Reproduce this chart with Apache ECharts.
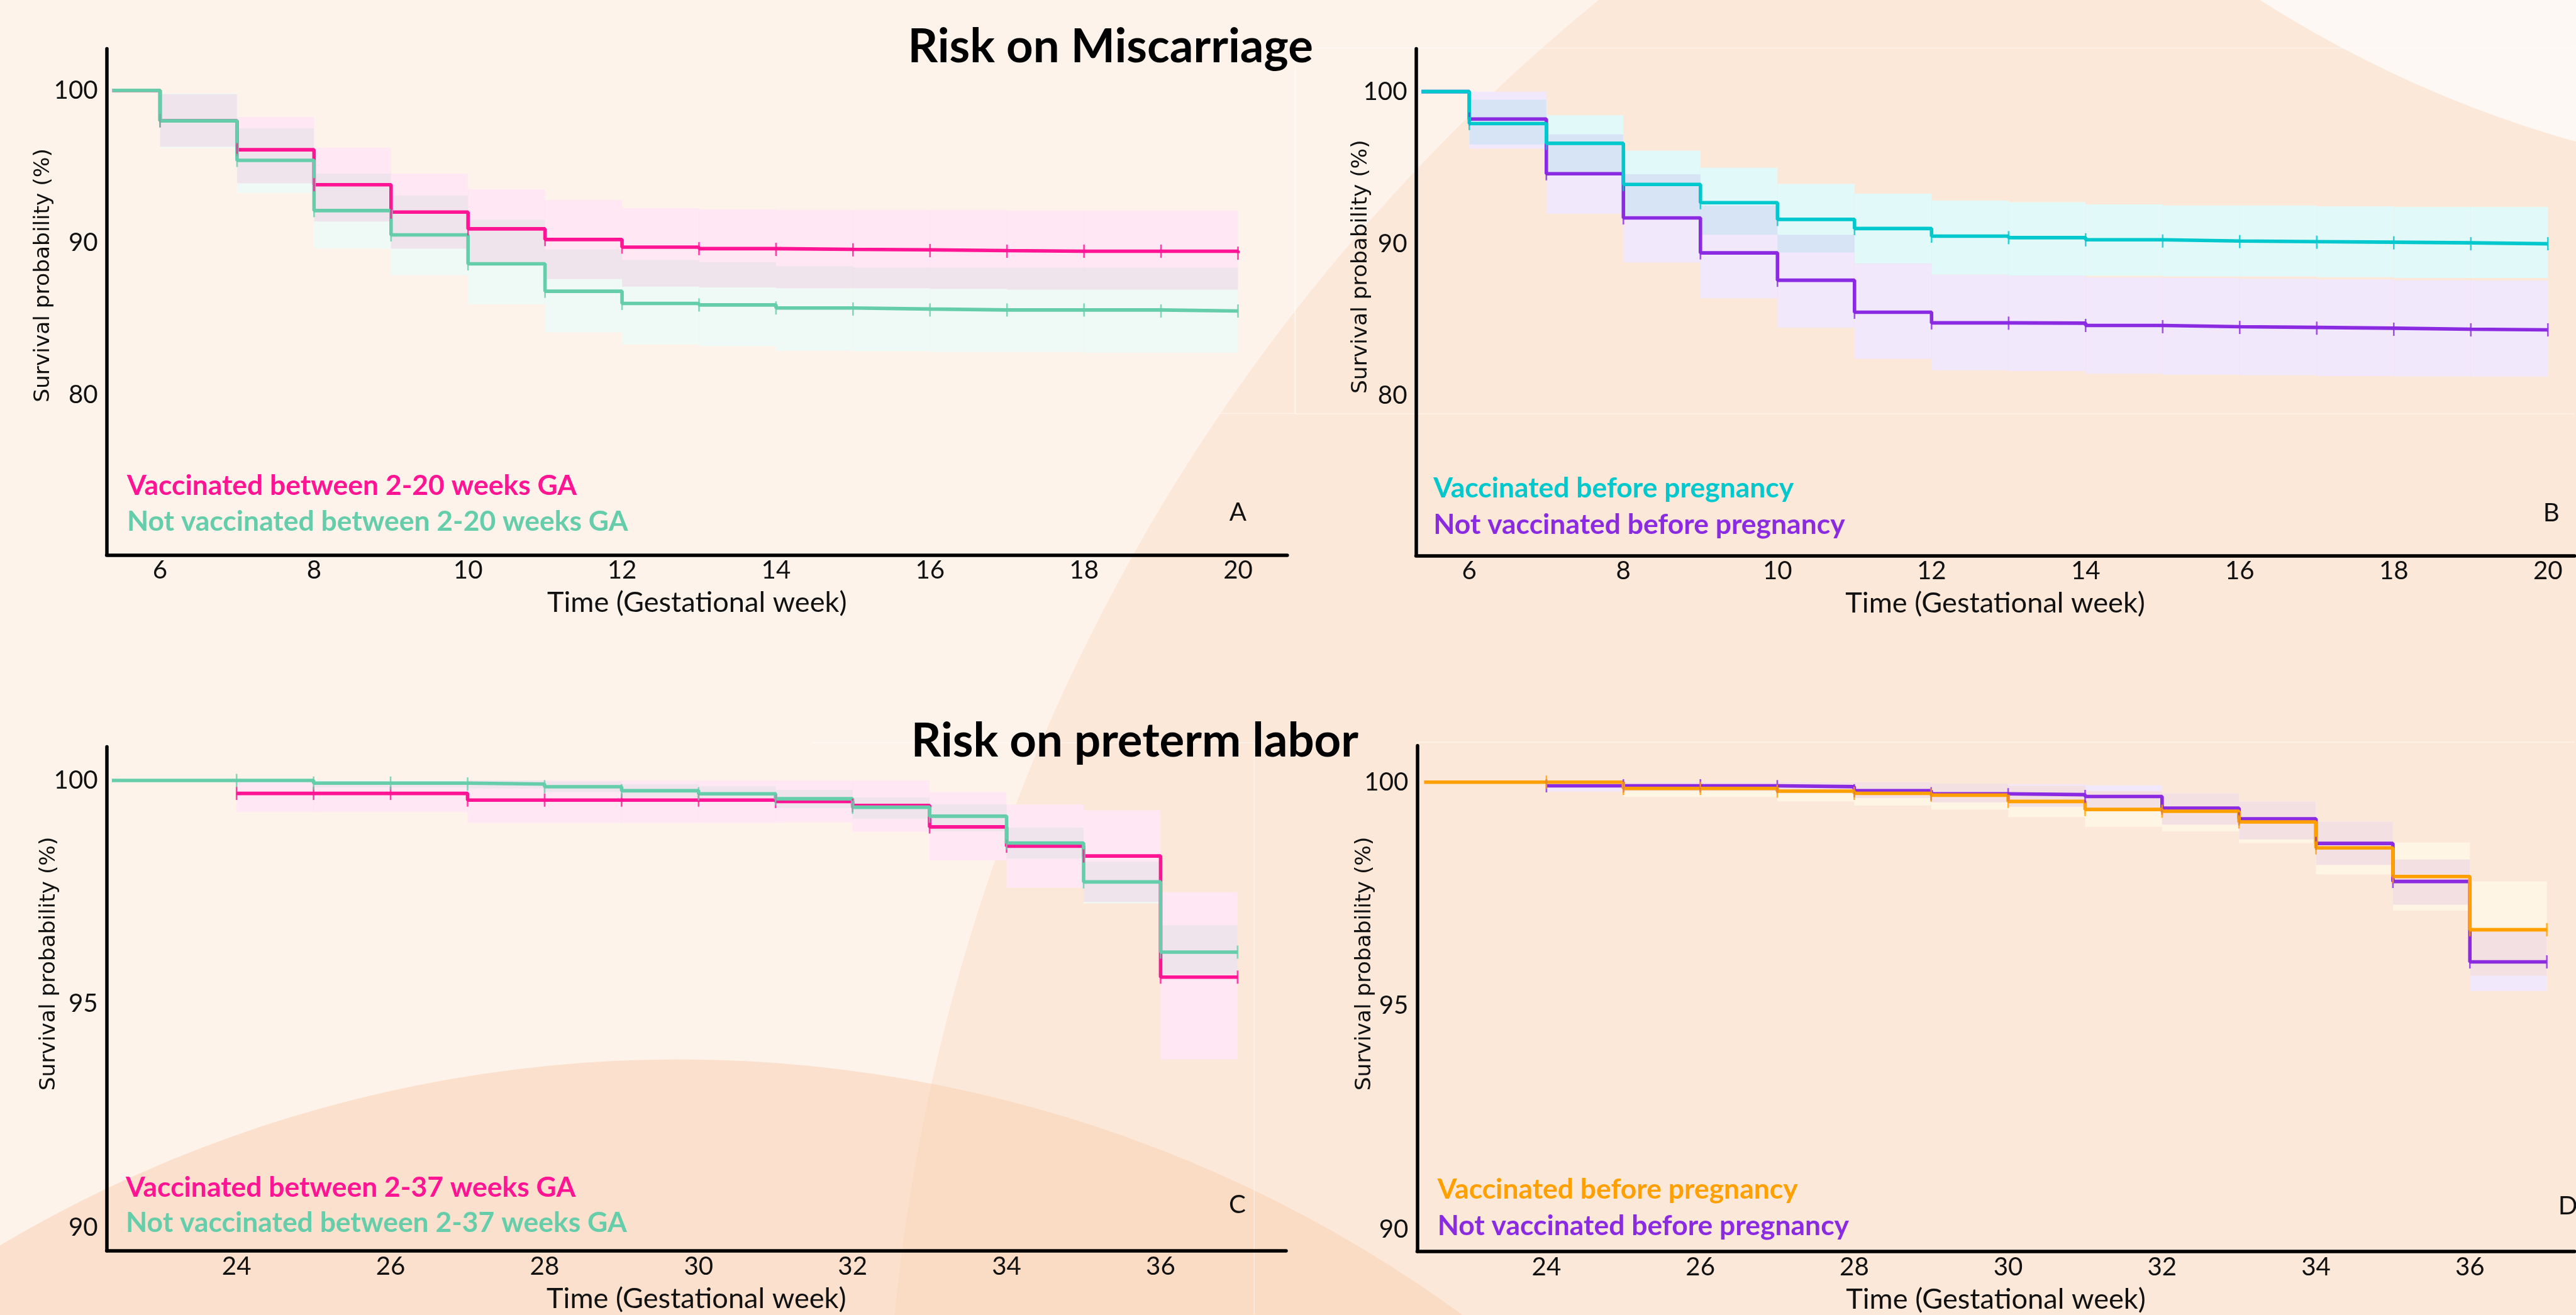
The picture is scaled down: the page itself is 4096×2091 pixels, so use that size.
<!DOCTYPE html>
<html>
<head>
<meta charset="utf-8">
<script src="https://cdn.jsdelivr.net/npm/echarts@6/dist/echarts.min.js"></script>
<style>
html,body{margin:0;padding:0;background:#fef3eb;}
#c{width:4096px;height:2091px;}
</style>
</head>
<body>
<div id="c"></div>
<script>
// ---------------- DATA ----------------
// Panel A: Risk on miscarriage, vaccinated between 2-20 weeks GA
const A_t      = [5.38, 6, 7, 8, 9, 10, 11, 12, 13, 14, 15, 16, 17, 18, 19, 20];
const A_vac    = [100, 98.0, 96.1, 93.8, 92.0, 90.9, 90.2, 89.7, 89.6, 89.55, 89.52, 89.47, 89.43, 89.43, 89.43, 89.3];
const A_vacHi  = [100, 99.75, 98.25, 96.24, 94.53, 93.5, 92.8, 92.25, 92.2, 92.15, 92.15, 92.15, 92.1, 92.1, 92.1];
const A_vacLo  = [100, 96.3, 93.9, 91.38, 89.6, 88.6, 87.6, 87.1, 87.05, 87.0, 87.0, 86.95, 86.9, 86.9, 86.9];
const A_not    = [100, 98.0, 95.4, 92.1, 90.5, 88.6, 86.8, 86.0, 85.9, 85.7, 85.63, 85.57, 85.57, 85.57, 85.5, 85.5];
const A_notHi  = [100, 99.8, 97.5, 94.53, 93.1, 91.5, 89.55, 88.85, 88.7, 88.45, 88.35, 88.35, 88.35, 88.35, 88.35];
const A_notLo  = [100, 96.2, 93.25, 89.6, 87.85, 85.95, 84.1, 83.3, 83.2, 82.9, 82.85, 82.8, 82.8, 82.75, 82.75];

// Panel B: Risk on miscarriage, vaccinated before pregnancy
const B_t      = [5.38, 6, 7, 8, 9, 10, 11, 12, 13, 14, 15, 16, 17, 18, 19, 20];
const B_vac    = [100, 97.9, 96.6, 93.9, 92.7, 91.6, 91.0, 90.5, 90.4, 90.26, 90.18, 90.14, 90.1, 90.06, 90.0, 90.0];
const B_vacHi  = [100, 99.47, 98.45, 96.12, 95.0, 93.93, 93.29, 92.83, 92.73, 92.59, 92.5, 92.5, 92.45, 92.42, 92.42];
const B_vacLo  = [100, 96.52, 94.52, 91.84, 90.59, 89.44, 88.69, 87.97, 87.9, 87.9, 87.85, 87.85, 87.8, 87.75, 87.75];
const B_not    = [100, 98.2, 94.6, 91.7, 89.4, 87.6, 85.5, 84.8, 84.78, 84.63, 84.55, 84.5, 84.45, 84.38, 84.34, 84.34];
const B_notHi  = [100, 100, 97.19, 94.57, 92.51, 90.59, 88.69, 87.97, 87.9, 87.79, 87.75, 87.7, 87.65, 87.6, 87.59];
const B_notLo  = [100, 96.26, 91.98, 88.77, 86.42, 84.49, 82.43, 81.68, 81.63, 81.46, 81.4, 81.35, 81.3, 81.28, 81.26];

// Panel C: Risk on preterm labor, vaccinated between 2-37 weeks GA
const C_tVac   = [24, 25, 26, 27, 28, 29, 30, 31, 32, 33, 34, 35, 36, 37];
const C_vac    = [99.71, 99.71, 99.71, 99.56, 99.56, 99.56, 99.56, 99.53, 99.44, 98.96, 98.53, 98.31, 95.6, 95.6];
const C_vacHi  = [99.98, 99.98, 99.98, 100, 100, 100, 100, 100, 100, 99.74, 99.46, 99.33, 97.5];
const C_vacLo  = [99.29, 99.29, 99.29, 99.05, 99.05, 99.05, 99.05, 99.06, 98.85, 98.21, 97.6, 97.28, 93.76];
const C_tNot   = [22.38, 24, 25, 26, 27, 28, 29, 30, 31, 32, 33, 34, 35, 36, 37];
const C_not    = [100, 100, 99.94, 99.94, 99.92, 99.86, 99.77, 99.7, 99.59, 99.4, 99.2, 98.6, 97.73, 96.16, 96.16];
const C_notHi  = [100, 100, 100, 100, 100, 99.98, 99.92, 99.87, 99.79, 99.62, 99.47, 98.94, 98.18, 96.76];
const C_notLo  = [100, 100, 99.85, 99.85, 99.82, 99.74, 99.62, 99.53, 99.38, 99.14, 98.86, 98.25, 97.25, 95.65];

// Panel D: Risk on preterm labor, vaccinated before pregnancy
const D_tVac   = [22.41, 24, 25, 26, 27, 28, 29, 30, 31, 32, 33, 34, 35, 36, 37];
const D_vac    = [100, 100, 99.86, 99.86, 99.8, 99.75, 99.71, 99.57, 99.39, 99.35, 99.11, 98.53, 97.89, 96.7, 96.7];
const D_vacHi  = [100, 100, 100, 100, 100, 100, 99.97, 99.92, 99.8, 99.75, 99.57, 99.12, 98.65, 97.78];
const D_vacLo  = [100, 100, 99.67, 99.67, 99.57, 99.48, 99.39, 99.22, 99.0, 98.9, 98.64, 97.94, 97.13, 95.67];
const D_tNot   = [24, 25, 26, 27, 28, 29, 30, 31, 32, 33, 34, 35, 36, 37];
const D_not    = [99.92, 99.92, 99.92, 99.9, 99.81, 99.74, 99.72, 99.68, 99.42, 99.18, 98.63, 97.78, 95.98, 95.98];
const D_notHi  = [100, 100, 100, 100, 100, 99.97, 99.95, 99.93, 99.75, 99.57, 99.12, 98.27, 96.67];
const D_notLo  = [99.79, 99.8, 99.8, 99.75, 99.65, 99.55, 99.45, 99.38, 99.05, 98.72, 98.15, 97.26, 95.33];

// Tick labels
const xTicksMisc = [6, 8, 10, 12, 14, 16, 18, 20];
const xTicksPre  = [24, 26, 28, 30, 32, 34, 36];
const yTicksMisc = [80, 90, 100];
const yTicksPre  = [90, 95, 100];

// Texts
const TITLE_TOP = 'Risk on Miscarriage';
const TITLE_BOTTOM = 'Risk on preterm labor';
const X_NAME = 'Time (Gestational week)';
const Y_NAME = 'Survival probability (%)';
const LEG_A = ['Vaccinated between 2-20 weeks GA', 'Not vaccinated between 2-20 weeks GA'];
const LEG_B = ['Vaccinated before pregnancy', 'Not vaccinated before pregnancy'];
const LEG_C = ['Vaccinated between 2-37 weeks GA', 'Not vaccinated between 2-37 weeks GA'];
const LEG_D = ['Vaccinated before pregnancy', 'Not vaccinated before pregnancy'];

// ---------------- STYLE / LAYOUT ----------------
const S = 0.922;
const PINK = '#ff1493', GREEN = '#66cdaa', CYAN = '#00c8cc', PURPLE = '#8a2be2', ORANGE = '#ffa000';

function fit(text, weight, family, target) {
  const c = document.createElement('canvas').getContext('2d');
  c.font = weight + ' 100px ' + family;
  return 100 * target / c.measureText(text).width;
}
const fTitle  = fit(TITLE_TOP, 'bold', 'Lato', 699 * S);
const fLegend = fit(LEG_A[0], 'bold', 'Lato', 776 * S);
const fTick   = fit('100', 'normal', 'Lato', 76 * S);
const fXName  = fit(X_NAME, 'normal', 'Lato', 517 * S);
const fYName  = fit(Y_NAME, 'normal', "'DejaVu Sans'", 438 * S);

function rgba(hex, a) {
  const n = parseInt(hex.slice(1), 16);
  return 'rgba(' + (n >> 16) + ',' + ((n >> 8) & 255) + ',' + (n & 255) + ',' + a + ')';
}

const grids = [
  {left: 184 * S, top: 84 * S,   width: (2220 - 184) * S,  height: (957 - 84) * S},
  {left: 2442 * S, top: 84 * S,  width: (4440 - 2442) * S, height: (958 - 84) * S},
  {left: 184 * S, top: 1288 * S, width: (2218 - 184) * S,  height: (2157 - 1288) * S},
  {left: 2444 * S, top: 1286 * S, width: (4440 - 2444) * S, height: (2158 - 1286) * S}
];
const xr = [[5.307, 20.64], [5.308, 20.346], [22.313, 37.63], [22.32, 37.36]];
const yr = [[69.47, 102.74], [69.51, 102.82], [89.48, 100.752], [89.507, 100.817]];
const yShift = [9.2, 6.5, 17, 12.4];

const axisLineStyle = {show: true, onZero: false, lineStyle: {color: '#000', width: 5.5}};
const xAxes = grids.map((g, i) => ({
  type: 'value', gridIndex: i, min: xr[i][0], max: xr[i][1],
  axisLine: axisLineStyle, axisTick: {show: false}, splitLine: {show: false},
  axisLabel: {customValues: i < 2 ? xTicksMisc : xTicksPre, fontFamily: 'Lato', fontSize: fTick,
              color: '#111', margin: Math.max(0, 30 * S - 0.56 * fTick)},
  name: X_NAME, nameLocation: 'middle', nameGap: 86 * S - 0.56 * fXName,
  nameTextStyle: {fontFamily: 'Lato', fontSize: fXName, color: '#111'}
}));
const yAxes = grids.map((g, i) => ({
  type: 'value', gridIndex: i, min: yr[i][0], max: yr[i][1],
  axisLine: axisLineStyle, axisTick: {show: false}, splitLine: {show: false},
  axisLabel: {customValues: i < 2 ? yTicksMisc : yTicksPre, fontFamily: 'Lato', fontSize: fTick,
              color: '#111', margin: 14, padding: [2 * yShift[i], 0, 0, 0]}
}));

const panels = [
  [{t: A_t, s: A_vac, hi: A_vacHi, lo: A_vacLo, c: PINK, a: 0.10},
   {t: A_t, s: A_not, hi: A_notHi, lo: A_notLo, c: GREEN, a: 0.105}],
  [{t: B_t, s: B_not, hi: B_notHi, lo: B_notLo, c: PURPLE, a: 0.11},
   {t: B_t, s: B_vac, hi: B_vacHi, lo: B_vacLo, c: CYAN, a: 0.115}],
  [{t: C_tVac, s: C_vac, hi: C_vacHi, lo: C_vacLo, c: PINK, a: 0.10},
   {t: C_tNot, s: C_not, hi: C_notHi, lo: C_notLo, c: GREEN, a: 0.105}],
  [{t: D_tNot, s: D_not, hi: D_notHi, lo: D_notLo, c: PURPLE, a: 0.11},
   {t: D_tVac, s: D_vac, hi: D_vacHi, lo: D_vacLo, c: ORANGE, a: 0.10}]
];

function bandData(k) {
  const d = [];
  for (let i = 0; i < k.hi.length; i++) {
    if (k.hi[i] > k.lo[i]) d.push([k.t[i], k.t[i + 1], k.lo[i], k.hi[i]]);
  }
  return d;
}
function rectItem(fill) {
  return function (params, api) {
    const a = api.coord([api.value(0), api.value(3)]);
    const b = api.coord([api.value(1), api.value(2)]);
    return {type: 'rect', shape: {x: a[0], y: a[1], width: b[0] - a[0], height: b[1] - a[1]},
            style: {fill: fill}};
  };
}

const series = [];
panels.forEach((p, gi) => {
  p.forEach(k => series.push({type: 'custom', xAxisIndex: gi, yAxisIndex: gi, z: 1, silent: true,
    renderItem: rectItem('#ffffff'), encode: {x: [0, 1], y: [2, 3]}, data: bandData(k)}));
  p.forEach(k => series.push({type: 'custom', xAxisIndex: gi, yAxisIndex: gi, z: 2, silent: true,
    renderItem: rectItem(rgba(k.c, k.a)), encode: {x: [0, 1], y: [2, 3]}, data: bandData(k)}));
  p.forEach(k => series.push({type: 'line', xAxisIndex: gi, yAxisIndex: gi, z: 3, silent: true,
    step: 'end', showSymbol: false, symbol: 'none', lineStyle: {color: k.c, width: 5.6},
    data: k.t.map((x, i) => [x, k.s[i]])}));
  p.forEach(k => series.push({type: 'scatter', xAxisIndex: gi, yAxisIndex: gi, z: 4, silent: true,
    symbol: 'rect', symbolSize: [2.6, 21], itemStyle: {color: k.c},
    data: k.t.map((x, i) => [x, k.s[i]]).filter(d => Number.isInteger(d[0]))}));
});

// ---------------- DECORATION ----------------
const bgFill = 'rgba(248,200,165,0.25)';
function txt(x, y, text, size, color, weight, align, family) {
  return {type: 'text', x: x, y: y, z: 20, silent: true,
    style: {text: text, fontSize: size, fontFamily: family || 'Lato', fontWeight: weight || 'normal',
            fill: color, align: align || 'left', verticalAlign: 'middle'}};
}
function ln(x1, y1, x2, y2) {
  return {type: 'line', z: -5, silent: true, shape: {x1: x1 * S, y1: y1 * S, x2: x2 * S, y2: y2 * S},
          style: {stroke: 'rgba(255,255,255,0.45)', lineWidth: 1.5}};
}
const graphics = [
  {type: 'circle', z: -10, silent: true, shape: {cx: 4877 * S, cy: 2594 * S, r: 3350 * S}, style: {fill: bgFill}},
  {type: 'circle', z: -10, silent: true, shape: {cx: 1170 * S, cy: 4121 * S, r: 2294 * S}, style: {fill: 'rgba(248,200,165,0.42)'}},
  {type: 'circle', z: -9, silent: true, shape: {cx: 4991 * S, cy: -1708 * S, r: 2028 * S}, style: {fill: 'rgba(255,255,255,0.7)'}},
  ln(2233, 122, 2233, 713), ln(2102, 713, 2233, 713),
  ln(2234, 83, 4440, 83), ln(2234, 714, 4440, 714), ln(2234, 83, 2234, 714),
  ln(1400, 1281, 2163, 1281), ln(2163, 1281, 2163, 2267),
  ln(2442, 1280, 4440, 1280),
  txt(1915 * S, 81 * S, TITLE_TOP, fTitle, '#000', 'bold', 'center'),
  txt(1957 * S, 1279 * S, TITLE_BOTTOM, fTitle, '#000', 'bold', 'center'),
  txt(219 * S, 838 * S, LEG_A[0], fLegend, PINK, 'bold'),
  txt(219 * S, 900 * S, LEG_A[1], fLegend, GREEN, 'bold'),
  txt(2472 * S, 842 * S, LEG_B[0], fLegend, CYAN, 'bold'),
  txt(2472 * S, 905 * S, LEG_B[1], fLegend, PURPLE, 'bold'),
  txt(217 * S, 2048 * S, LEG_C[0], fLegend, PINK, 'bold'),
  txt(217 * S, 2109 * S, LEG_C[1], fLegend, GREEN, 'bold'),
  txt(2479 * S, 2052 * S, LEG_D[0], fLegend, ORANGE, 'bold'),
  txt(2479 * S, 2115 * S, LEG_D[1], fLegend, PURPLE, 'bold'),
  txt(2135 * S, 884 * S, 'A', fTick, '#111', 'normal', 'center'),
  txt(4400 * S, 885 * S, 'B', fTick, '#111', 'normal', 'center'),
  txt(2134 * S, 2078 * S, 'C', fTick, '#111', 'normal', 'center'),
  txt(4412 * S, 2080 * S, 'D', fTick, '#111', 'normal', 'left')
];
[[75, 475], [2347, 460], [85, 1662], [2354, 1662]].forEach(p => {
  const t = txt(p[0] * S, p[1] * S, Y_NAME, fYName, '#111', 'normal', 'center', "'DejaVu Sans'");
  t.rotation = Math.PI / 2;
  graphics.push(t);
});

const chart = echarts.init(document.getElementById('c'), null, {renderer: 'canvas'});
chart.setOption({
  backgroundColor: '#fef3eb',
  animation: false,
  grid: grids,
  xAxis: xAxes,
  yAxis: yAxes,
  series: series,
  graphic: {elements: graphics}
});
</script>
</body>
</html>
